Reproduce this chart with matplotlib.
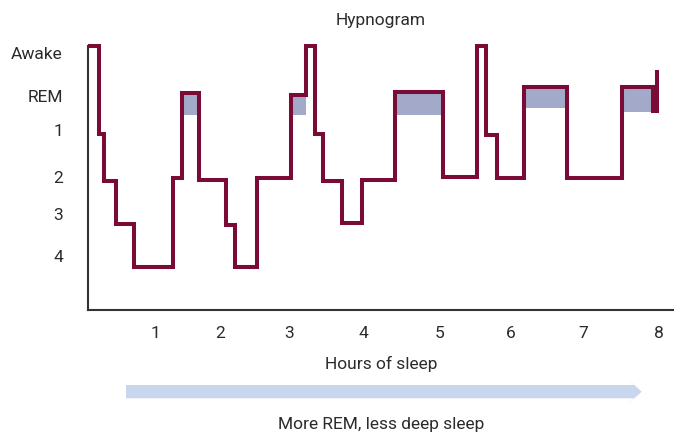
import matplotlib
matplotlib.use("Agg")
import matplotlib.pyplot as plt
from matplotlib.patches import Polygon

plt.rcParams['font.family'] = ['Roboto', 'DejaVu Sans']

# ---- data -------------------------------------------------------------
# stage depth: 0 = Awake, 1 = REM, 2 = stage 1, 3 = stage 2, 4 = stage 3, 5 = stage 4
step_hours = [0.00, 0.15, 0.22, 0.39, 0.65, 1.19, 1.32, 1.56, 1.94, 2.06,
              2.37, 2.85, 3.06, 3.19, 3.30, 3.57, 3.85, 4.31, 4.98, 5.46,
              5.59, 5.74, 6.12, 6.72, 7.50, 7.93, 7.99, 7.99]
step_stage = [0.00, 2.00, 3.05, 4.02, 5.00, 3.00, 1.07, 3.03, 4.05, 5.00,
              3.00, 1.11, 0.00, 2.00, 3.05, 4.00, 3.03, 1.04, 2.96, 0.00,
              2.02, 2.99, 0.94, 2.99, 0.94, 1.48, 0.55, 0.55]

rem_start = [1.32, 2.85, 4.31, 6.12, 7.50]
rem_end = [1.56, 3.06, 4.98, 6.72, 7.93]
rem_top = [1.07, 1.11, 1.04, 0.94, 0.94]
rem_bottom = [1.58, 1.56, 1.56, 1.41, 1.49]

ytick_pos = [0.15, 1.12, 1.88, 2.94, 3.77, 4.72]
ytick_labels = ["Awake", "REM", "1", "2", "3", "4"]
xtick_pos = [0.94, 1.85, 2.82, 3.87, 4.93, 5.94, 6.95, 8.02]
xtick_labels = ["1", "2", "3", "4", "5", "6", "7", "8"]

title = "Hypnogram"
xlabel = "Hours of sleep"
arrow_text = "More REM, less deep sleep"

# ---- styling -----------------------------------------------------------
W, H = 679, 435
LINE = "#7a0a36"
SHADE = "#a3aac9"
TEXT = "#2b2b2b"
SPINE = "#333333"
ARROW = "#c8d6ee"

fig = plt.figure(figsize=(W / 100, H / 100), dpi=100)
ax = fig.add_axes([88 / W, (H - 311) / H, 585 / W, (311 - 46.5) / H])

for x0, x1, t, b in zip(rem_start, rem_end, rem_top, rem_bottom):
    ax.fill_between([x0, x1], [t, t], [b, b], color=SHADE, linewidth=0, zorder=1)

ax.plot(step_hours, step_stage, drawstyle="steps-post", color=LINE,
        linewidth=2.9, solid_joinstyle="miter", solid_capstyle="butt",
        clip_on=False, zorder=3)

ax.set_xlim(0, 585 / 71.25)
ax.set_ylim((311 - 46.5) / 44.3, 0)

for s in ["top", "right"]:
    ax.spines[s].set_visible(False)
for s in ["left", "bottom"]:
    ax.spines[s].set_color(SPINE)
    ax.spines[s].set_linewidth(1.5)
    ax.spines[s].set_zorder(2)

ax.set_yticks(ytick_pos)
ax.set_yticklabels(ytick_labels)
ax.set_xticks(xtick_pos)
ax.set_xticklabels(xtick_labels)
ax.tick_params(axis="y", length=0, pad=18, labelsize=12.5, labelcolor=TEXT)
ax.tick_params(axis="x", length=0, pad=11, labelsize=12.5, labelcolor=TEXT)

fig.text(381 / W, 1 - 21 / H, title, ha="center", va="center",
         fontsize=12.5, color=TEXT)
fig.text(381 / W, 1 - 364 / H, xlabel, ha="center", va="center",
         fontsize=12.5, color=TEXT)
fig.text(381 / W, 1 - 425 / H, arrow_text, ha="center", va="center",
         fontsize=12.5, color=TEXT)

arrow_px = [(126, 386), (634, 386), (627, 379.3), (641.7, 392.7),
            (627, 406), (634, 399.3), (126, 399.3)]
arrow = Polygon([(x / W, 1 - y / H) for x, y in arrow_px], closed=True,
                transform=fig.transFigure, facecolor=ARROW, edgecolor="none")
fig.patches.append(arrow)

fig.savefig("out.png", dpi=100)
